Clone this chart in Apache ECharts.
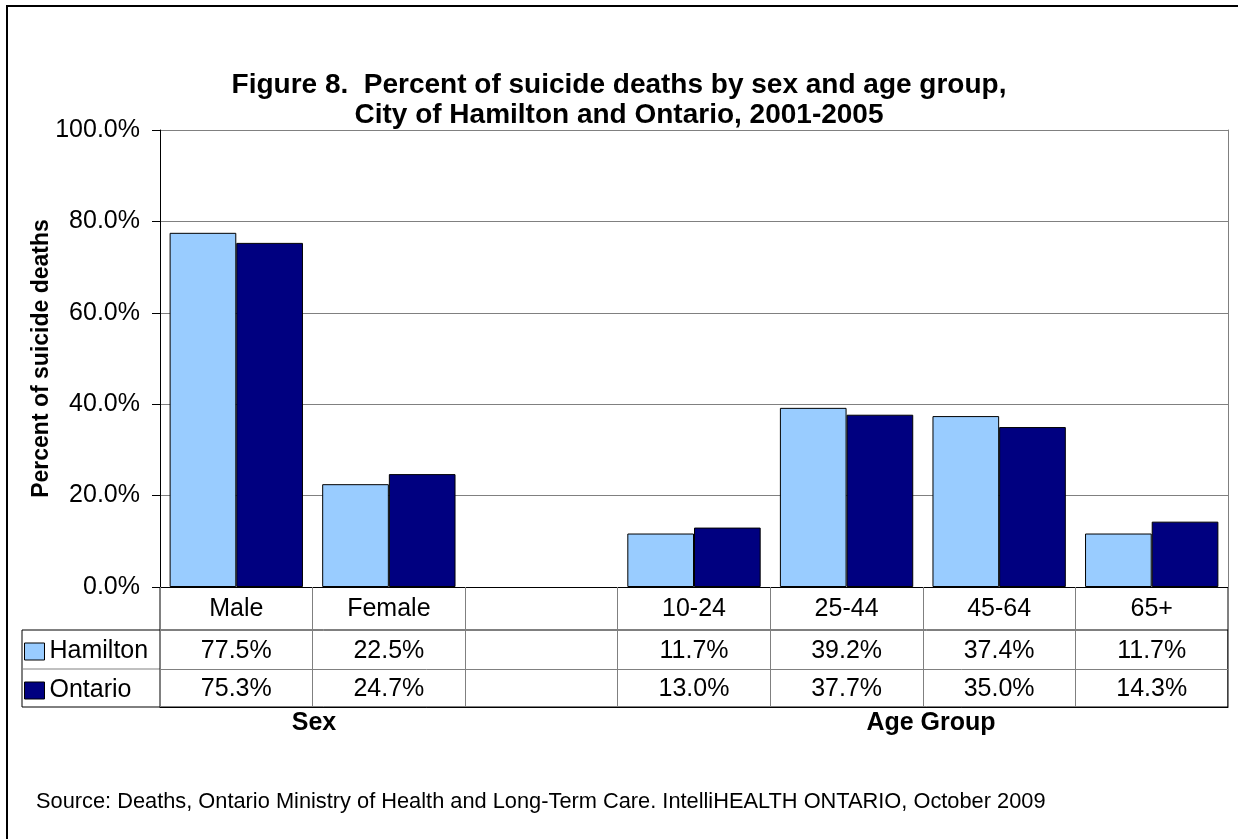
<!DOCTYPE html>
<html>
<head>
<meta charset="utf-8">
<script src="https://cdn.jsdelivr.net/npm/echarts@6/dist/echarts.min.js"></script>
<style>
html,body{margin:0;padding:0;background:#fff;}
#c{width:1238px;height:839px;}
</style>
</head>
<body>
<div id="c"></div>
<script>
var categories = ['Male', 'Female', '', '10-24', '25-44', '45-64', '65+'];
var hamilton = [77.5, 22.5, null, 11.7, 39.2, 37.4, 11.7];
var ontario = [75.3, 24.7, null, 13.0, 37.7, 35.0, 14.3];
var seriesNames = ['Hamilton', 'Ontario'];
var yTicks = [0, 20, 40, 60, 80, 100];
var groupLabels = ['Sex', 'Age Group'];
var titleText = 'Figure 8.  Percent of suicide deaths by sex and age group,\nCity of Hamilton and Ontario, 2001-2005';
var yAxisTitle = 'Percent of suicide deaths';
var sourceText = 'Source: Deaths, Ontario Ministry of Health and Long-Term Care. IntelliHEALTH ONTARIO, October 2009';

var FONT = "'Liberation Sans', Arial, sans-serif";
var LBL = 25;
var fmt = function (v) { return (v === null || v === undefined) ? '' : v.toFixed(1) + '%'; };

var chart = echarts.init(document.getElementById('c'), null, {renderer: 'canvas'});

function tableAxis(data, offset, lineColor, showLabel, margin) {
  return {
    type: 'category',
    data: data,
    position: 'bottom',
    offset: offset,
    gridIndex: 0,
    axisLine: {show: true, lineStyle: {color: lineColor, width: 1}},
    axisTick: {show: false},
    axisLabel: {show: showLabel, interval: 0, margin: margin, verticalAlign: 'middle',
      color: '#000', fontFamily: FONT, fontSize: LBL},
    splitLine: {show: false}
  };
}

var option = {
  animation: false,
  backgroundColor: '#fff',
  title: [{
    text: titleText,
    left: 'center',
    top: 65,
    textStyle: {fontFamily: FONT, fontWeight: 'bold', fontSize: 28, lineHeight: 30, color: '#000'}
  }, {
    text: sourceText,
    left: 31,
    top: 786,
    textStyle: {fontFamily: FONT, fontWeight: 'normal', fontSize: 21.8, color: '#000'}
  }],
  legend: {
    orient: 'vertical',
    left: 19,
    top: 634,
    itemWidth: 20,
    itemHeight: 17,
    itemGap: 14,
    icon: 'rect',
    data: seriesNames,
    itemStyle: {borderColor: '#000', borderWidth: 1},
    textStyle: {fontFamily: FONT, fontSize: LBL, lineHeight: 25, color: '#000'},
    selectedMode: false
  },
  grid: {left: 160, right: 10, top: 130, bottom: 252, containLabel: false},
  xAxis: [
    {
      type: 'category',
      data: categories,
      position: 'bottom',
      axisLine: {show: true, lineStyle: {color: '#000', width: 1}},
      axisTick: {show: true, length: 120, interval: 0, lineStyle: {color: '#808080', width: 1}},
      axisLabel: {interval: 0, margin: 22, verticalAlign: 'middle', color: '#000', fontFamily: FONT, fontSize: LBL},
      splitLine: {show: false}
    },
    tableAxis(hamilton.map(fmt), 43, '#000', true, 21),
    tableAxis(ontario.map(fmt), 82, '#808080', true, 20),
    tableAxis(categories, 120, '#000', false, 0)
  ],
  yAxis: [{
    type: 'value',
    min: 0,
    max: 100,
    interval: 20,
    name: yAxisTitle,
    nameLocation: 'middle',
    nameGap: 107,
    nameMoveOverlap: false,
    nameTextStyle: {fontFamily: FONT, fontWeight: 'bold', fontSize: 23, color: '#000'},
    axisLine: {show: true, lineStyle: {color: '#000', width: 1}},
    axisTick: {show: true, length: 8, lineStyle: {color: '#000', width: 1}},
    axisLabel: {margin: 20, color: '#000', fontFamily: FONT, fontSize: LBL, formatter: function (v) { return v.toFixed(1) + '%'; }},
    splitLine: {show: true, lineStyle: {color: '#808080', width: 1}}
  }, {
    type: 'value',
    min: 0, max: 100, interval: 20,
    position: 'right',
    axisLine: {show: true, lineStyle: {color: '#808080', width: 1}},
    axisTick: {show: false},
    axisLabel: {show: false},
    splitLine: {show: false}
  }],
  series: [{
    name: seriesNames[0],
    type: 'bar',
    data: hamilton,
    xAxisIndex: 0,
    yAxisIndex: 0,
    barGap: '0%',
    barCategoryGap: '12.6%',
    itemStyle: {color: '#99CCFF', borderColor: '#000', borderWidth: 1}
  }, {
    name: seriesNames[1],
    type: 'bar',
    data: ontario,
    xAxisIndex: 0,
    yAxisIndex: 0,
    barGap: '0%',
    barCategoryGap: '12.6%',
    itemStyle: {color: '#000080', borderColor: '#000', borderWidth: 1}
  }],
  graphic: [
    {type: 'rect', silent: true, shape: {x: 7, y: 6, width: 1240, height: 840},
      style: {fill: null, stroke: '#000', lineWidth: 2}},
    {type: 'rect', silent: true, shape: {x: 22, y: 630, width: 1206, height: 77},
      style: {fill: null, stroke: '#000', lineWidth: 1}},
    {type: 'line', silent: true, shape: {x1: 22, y1: 669, x2: 160, y2: 669},
      style: {stroke: '#808080', lineWidth: 1}},
    {type: 'line', silent: true, shape: {x1: 160, y1: 587, x2: 160, y2: 707},
      style: {stroke: '#000', lineWidth: 1}},
    {type: 'line', silent: true, shape: {x1: 1228, y1: 587, x2: 1228, y2: 707},
      style: {stroke: '#000', lineWidth: 1}},
    {type: 'line', silent: true, shape: {x1: 465.5, y1: 587, x2: 465.5, y2: 707},
      style: {stroke: '#000', lineWidth: 1}},
    {type: 'text', silent: true, x: 314, y: 723,
      style: {text: groupLabels[0], font: 'bold 25px ' + FONT, fill: '#000', align: 'center', verticalAlign: 'middle'}},
    {type: 'text', silent: true, x: 931, y: 723,
      style: {text: groupLabels[1], font: 'bold 25px ' + FONT, fill: '#000', align: 'center', verticalAlign: 'middle'}}
  ]
};
chart.setOption(option);
</script>
</body>
</html>
